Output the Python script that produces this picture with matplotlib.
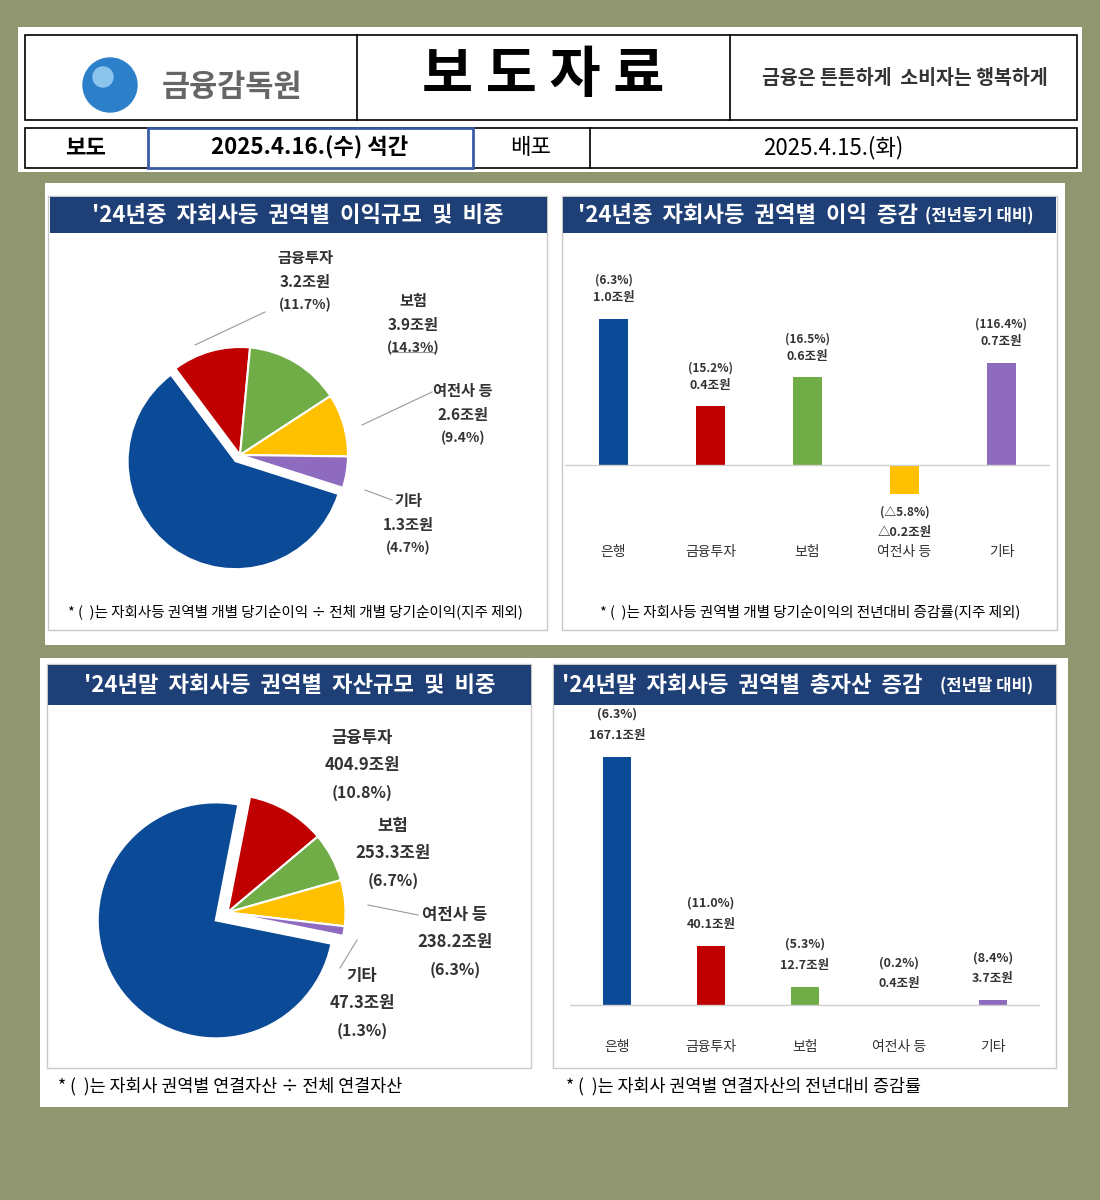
import matplotlib
matplotlib.use("Agg")
import matplotlib.pyplot as plt
from matplotlib.patches import Rectangle, Circle

plt.rcParams['font.family'] = ['Noto Sans CJK KR', 'DejaVu Sans']

W, H = 1100, 1200
cats = ['은행', '금융투자', '보험', '여전사 등', '기타']
colors = ['#0B4A96', '#C00000', '#70AD47', '#FFC000', '#8E6BBE']

profit_amt = [16.3, 3.2, 3.9, 2.6, 1.3]
profit_pct = [59.8, 11.7, 14.3, 9.4, 4.7]
profit_chg = [1.0, 0.4, 0.6, -0.2, 0.7]
profit_chg_lbl = ['1.0조원', '0.4조원', '0.6조원', '△0.2조원', '0.7조원']
profit_chg_pct = ['(6.3%)', '(15.2%)', '(16.5%)', '(△5.8%)', '(116.4%)']

asset_amt = ['2,811.0', '404.9', '253.3', '238.2', '47.3']
asset_pct = [74.9, 10.8, 6.7, 6.3, 1.3]
asset_chg = [167.1, 40.1, 12.7, 0.4, 3.7]
asset_chg_lbl = ['167.1조원', '40.1조원', '12.7조원', '0.4조원', '3.7조원']
asset_chg_pct = ['(6.3%)', '(11.0%)', '(5.3%)', '(0.2%)', '(8.4%)']

fig = plt.figure(figsize=(11, 12), dpi=100)
fig.patch.set_facecolor('#8F9670')
ov = fig.add_axes([0, 0, 1, 1], zorder=0)
ov.set_xlim(0, W); ov.set_ylim(H, 0); ov.axis('off')

def rect(x0, y0, x1, y1, fc='white', ec='none', lw=1, z=1):
    ov.add_patch(Rectangle((x0, y0), x1 - x0, y1 - y0, fc=fc, ec=ec, lw=lw, zorder=z))

def T(x, y, s, **kw):
    kw.setdefault('ha', 'center'); kw.setdefault('va', 'center')
    kw.setdefault('zorder', 5)
    ov.text(x, y, s, **kw)

def pax(x0, y0, x1, y1, z=2):
    return fig.add_axes([x0 / W, 1 - y1 / H, (x1 - x0) / W, (y1 - y0) / H], zorder=z)

# Header
rect(18, 27, 1082, 172)
rect(25, 35, 1077, 120, ec='black', lw=1.2)
ov.plot([357, 357], [35, 120], color='black', lw=1.2, zorder=3)
ov.plot([730, 730], [35, 120], color='black', lw=1.2, zorder=3)
ov.add_patch(Circle((110, 85), 27, color='#2C7FC9', zorder=3))
ov.add_patch(Circle((103, 77), 10, color='#8CC4EE', zorder=4))
T(232, 87, '금융감독원', fontsize=22, color='#666666', fontweight='bold')
T(543, 76, '보 도 자 료', fontsize=40, fontweight='bold')
T(905, 78, '금융은 튼튼하게  소비자는 행복하게', fontsize=14, fontweight='bold', color='#333333')
rect(25, 128, 1077, 168, ec='black', lw=1.2)
rect(148, 128, 473, 168, ec='#3A5BA8', lw=2, z=2)
ov.plot([590, 590], [128, 168], color='black', lw=1.2, zorder=3)
T(86, 148, '보도', fontsize=16, fontweight='bold')
T(310, 148, '2025.4.16.(수) 석간', fontsize=16, fontweight='bold')
T(531, 148, '배포', fontsize=16)
T(833, 148, '2025.4.15.(화)', fontsize=16)

# Panels
rect(45, 183, 1065, 645)
rect(40, 658, 1068, 1107)
for (x0, y0, x1, y1) in [(48, 196, 547, 630), (562, 196, 1057, 630), (47, 664, 531, 1068), (553, 664, 1056, 1068)]:
    rect(x0, y0, x1, y1, ec='#C8C8C8', lw=1, z=1.5)
NAVY = '#1F3F77'
for (x0, y0, x1, y1, s, tx, ha) in [
        (50, 197, 547, 233, "'24년중  자회사등  권역별  이익규모  및  비중", 298, 'center'),
        (563, 197, 1056, 233, "'24년중  자회사등  권역별  이익  증감", 578, 'left'),
        (48, 665, 531, 705, "'24년말  자회사등  권역별  자산규모  및  비중", 290, 'center'),
        (554, 665, 1056, 705, "'24년말  자회사등  권역별  총자산  증감", 562, 'left')]:
    rect(x0, y0, x1, y1, fc=NAVY, z=2)
    T(tx, (y0 + y1) / 2, s, fontsize=16, fontweight='bold', color='white', ha=ha)
T(925, 216, '(전년동기 대비)', fontsize=12, fontweight='bold', color='white', ha='left')
T(940, 686, '(전년말 대비)', fontsize=12, fontweight='bold', color='white', ha='left')

T(295, 612, '* (  )는 자회사등 권역별 개별 당기순이익 ÷ 전체 개별 당기순이익(지주 제외)', fontsize=10.5)
T(810, 612, '* (  )는 자회사등 권역별 개별 당기순이익의 전년대비 증감률(지주 제외)', fontsize=10.5)
T(58, 1086, '* (  )는 자회사 권역별 연결자산 ÷ 전체 연결자산', fontsize=12.5, ha='left')
T(566, 1086, '* (  )는 자회사 권역별 연결자산의 전년대비 증감률', fontsize=12.5, ha='left')

# Pie 1
a1 = pax(105, 320, 375, 590)
a1.pie(profit_pct, colors=colors, startangle=-17.7, counterclock=False,
       explode=[0.07, 0, 0, 0, 0], wedgeprops=dict(ec='white', lw=1.5))
a1.set_aspect('equal')
lbl1 = [(183, 487), (305, 282), (413, 325), (463, 415), (408, 525)]
for i, (x, y) in enumerate(lbl1):
    col = 'white' if i == 0 else '#333333'
    T(x, y - 24, cats[i], fontsize=11, fontweight='bold', color=col)
    T(x, y, f'{profit_amt[i]}조원', fontsize=11, fontweight='bold', color=col)
    T(x, y + 23, f'({profit_pct[i]}%)', fontsize=10, fontweight='bold', color=col)
for (x0, y0, x1, y1) in [(265, 312, 195, 345), (435, 352, 390, 352), (432, 392, 362, 425), (392, 500, 365, 490)]:
    ov.plot([x0, x1], [y0, y1], color='#999999', lw=0.8, zorder=4)

# Bars 1
b1 = pax(565, 240, 1050, 570)
x = range(len(cats))
b1.bar(x, profit_chg, width=0.3, color=colors)
b1.axhline(0, color='#D0D0D0', lw=1)
b1.set_xlim(-0.5, 4.5); b1.set_ylim(-0.72, 1.54)
b1.axis('off')
for i, v in enumerate(profit_chg):
    if v >= 0:
        b1.text(i, v + 0.1, profit_chg_lbl[i], ha='center', va='bottom', fontsize=9, fontweight='bold', color='#333333')
        b1.text(i, v + 0.22, profit_chg_pct[i], ha='center', va='bottom', fontsize=8.5, fontweight='bold', color='#333333')
    else:
        b1.text(i, v - 0.08, profit_chg_pct[i], ha='center', va='top', fontsize=8.5, fontweight='bold', color='#333333')
        b1.text(i, v - 0.22, profit_chg_lbl[i], ha='center', va='top', fontsize=9, fontweight='bold', color='#333333')
    b1.text(i, -0.6, cats[i], ha='center', va='center', fontsize=10, color='#333333')

# Pie 2
a2 = pax(80, 765, 375, 1060)
a2.pie(asset_pct, colors=colors, startangle=-11.4, counterclock=False,
       explode=[0.12, 0, 0, 0, 0], wedgeprops=dict(ec='white', lw=1.5))
a2.set_aspect('equal')
lbl2 = [(143, 929), (362, 765), (393, 853), (455, 942), (362, 1003)]
for i, (x0, y0) in enumerate(lbl2):
    col = 'white' if i == 0 else '#333333'
    T(x0, y0 - 27, cats[i], fontsize=12, fontweight='bold', color=col)
    T(x0, y0, f'{asset_amt[i]}조원', fontsize=12, fontweight='bold', color=col)
    T(x0, y0 + 28, f'({asset_pct[i]}%)', fontsize=11.5, fontweight='bold', color=col)
for (x0, y0, x1, y1) in [(418, 915, 368, 905), (340, 968, 357, 940)]:
    ov.plot([x0, x1], [y0, y1], color='#999999', lw=0.8, zorder=4)

# Bars 2
b2 = pax(570, 715, 1040, 1065)
b2.bar(x, asset_chg, width=0.3, color=colors)
b2.axhline(0, color='#D0D0D0', lw=1)
b2.set_xlim(-0.5, 4.5); b2.set_ylim(-40, 195)
b2.axis('off')
for i, v in enumerate(asset_chg):
    b2.text(i, v + 10, asset_chg_lbl[i], ha='center', va='bottom', fontsize=9, fontweight='bold', color='#333333')
    b2.text(i, v + 24, asset_chg_pct[i], ha='center', va='bottom', fontsize=9, fontweight='bold', color='#333333')
    b2.text(i, -28, cats[i], ha='center', va='center', fontsize=10, color='#333333')

fig.savefig('out.png', dpi=100, facecolor=fig.get_facecolor())
